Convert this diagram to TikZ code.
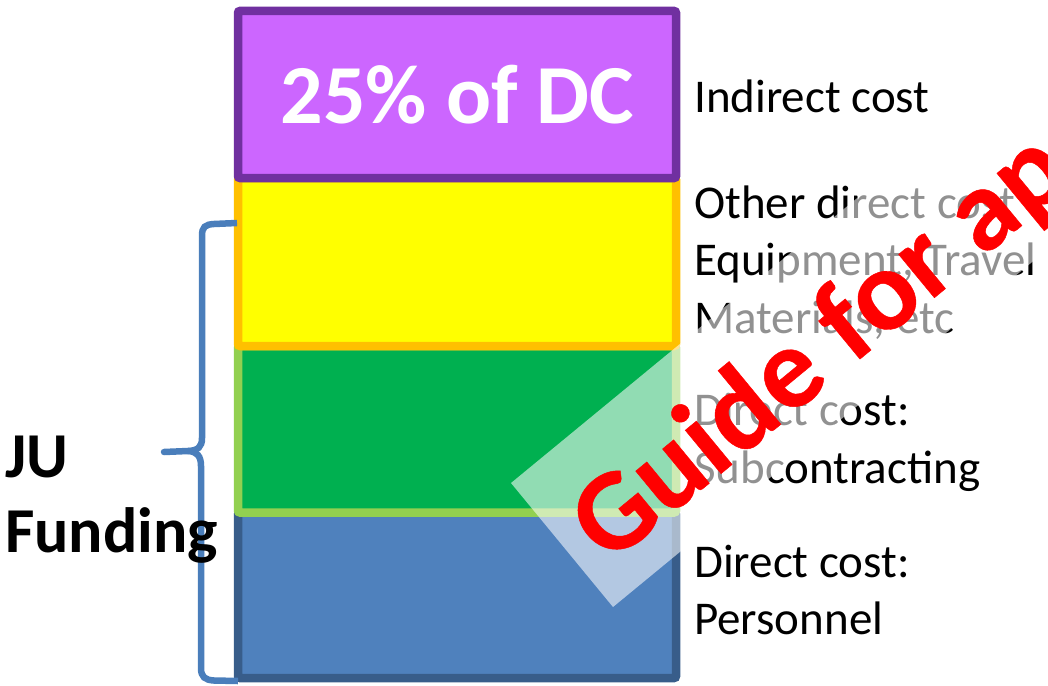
\documentclass[tikz,border=0pt]{standalone}
\usepackage{fontspec}
\setmainfont{Carlito}
\newfontfamily\wmfont{Carlito Bold}[FakeBold=0.4, LetterSpace=0.8]
\definecolor{purfill}{HTML}{CC66FF}
\definecolor{purline}{HTML}{7030A0}
\definecolor{yelfill}{HTML}{FFFF00}
\definecolor{yelline}{HTML}{FFC000}
\definecolor{grnfill}{HTML}{00B050}
\definecolor{grnline}{HTML}{92D050}
\definecolor{blufill}{HTML}{4F81BD}
\definecolor{bluline}{HTML}{385D8A}
\definecolor{bracecol}{HTML}{4A7EBB}
\begin{document}
\begin{tikzpicture}[x=1pt,y=-1pt,
  box/.style={line width=8.5pt, rounded corners=2pt, inner sep=0pt, minimum width=438pt},
  lbl/.style={anchor=base west, inner sep=0pt, font=\fontsize{47}{57}\selectfont},
  big/.style={anchor=base west, inner sep=0pt, font=\bfseries\fontsize{64}{75}\selectfont},
  bracepath/.style={draw=bracecol, line width=6.5pt}]
\useasboundingbox (0,0) rectangle (1048,685);
% stacked boxes (bottom first)
\node[box, fill=blufill, draw=bluline, minimum height=165.5pt] (blue) at (457,595.25) {};
\node[box, fill=grnfill, draw=grnline, minimum height=166.5pt] (green) at (457,429.25) {};
\node[box, fill=yelfill, draw=yelline, minimum height=168pt] (yellow) at (457,262) {};
\node[box, fill=purfill, draw=purline, minimum height=167pt] (purple) at (457,94.5) {};
\node[anchor=base, inner sep=0pt, text=white, font=\bfseries\fontsize{84}{100}\selectfont] (dc) at (457.5,123) {25\% of DC};
% brace
\coordinate (btop) at (237,223);
\coordinate (bbot) at (238,681);
\coordinate (btip) at (164,452);
\draw[bracepath] (btop) -- (214,224) .. controls (205,224.5) and (202,227) .. (202,236) -- (202,438) .. controls (202,447) and (198,450.5) .. (188,451);
\draw[bracepath, line cap=round] (188,451) -- (btip);
\draw[bracepath] (188,451) .. controls (197,451.5) and (201,456) .. (201,466) -- (201,668) .. controls (201,677) and (205,680) .. (214,680.5) -- (bbot);
\node[big] (ju) at (5,477) {JU};
\node[big] (fund) at (5,552) {Funding};
% labels
\node[lbl] (ic) at (694,112) {Indirect cost};
\node[lbl] (od1) at (694,218) {Other direct cost};
\node[lbl] (od2) at (694,275.5) {Equipment, Travel};
\node[lbl] (od3) at (694,333) {Materials, etc};
\node[lbl] (sc1) at (694,425) {Direct cost:};
\node[lbl] (sc2) at (694,483) {Subcontracting};
\node[lbl] (pe1) at (694,577) {Direct cost:};
\node[lbl] (pe2) at (694,634) {Personnel};
% watermark
\fill[white, opacity=0.57] (511,483) -- (613,607) -- (1153,162.5) -- (1051,38.5) -- cycle;
\node[anchor=base west, inner sep=0pt, rotate=39.5, text=red, font=\wmfont\fontsize{116}{130}\selectfont] (wm) at (609,566) {Guide for ap};
\end{tikzpicture}
\end{document}
